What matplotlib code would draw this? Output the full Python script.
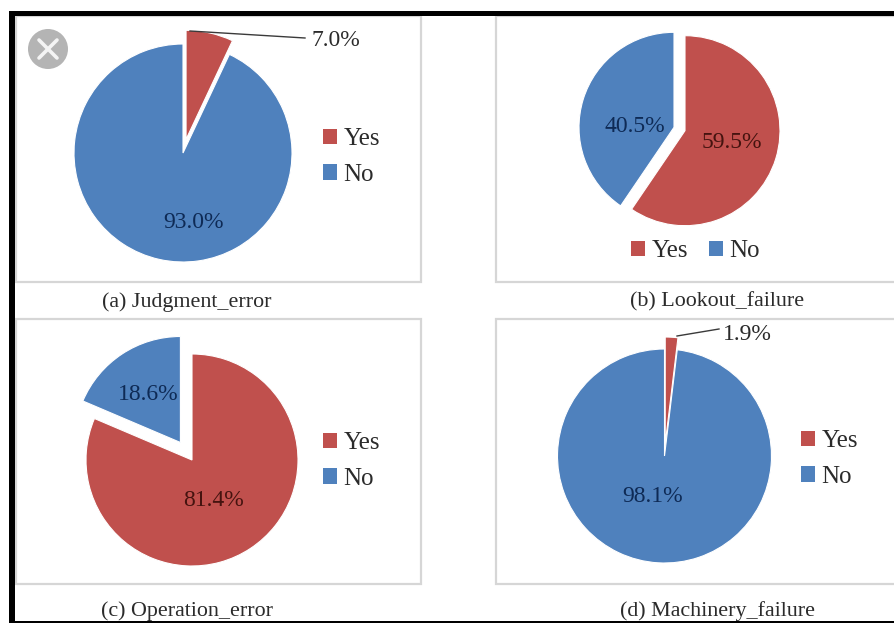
import matplotlib
matplotlib.use("Agg")
import matplotlib.pyplot as plt
from matplotlib.patches import Rectangle, Circle

WIDTH, HEIGHT = 894, 623

# Share of accidents with each factor present, in percent
categories = ["Yes", "No"]
judgment_error = [7.0, 93.0]
lookout_failure = [59.5, 40.5]
operation_error = [81.4, 18.6]
machinery_failure = [1.9, 98.1]
captions = ["(a) Judgment_error", "(b) Lookout_failure",
            "(c) Operation_error", "(d) Machinery_failure"]

RED = "#c0504d"
BLUE = "#4f81bd"
FRAME = "#d6d6d6"
INK = "#2b2b2b"
INK_ON = {0: "#45130f", 1: "#0e2a55"}

plt.rcParams["font.family"] = ["Liberation Serif", "DejaVu Serif"]

fig = plt.figure(figsize=(WIDTH / 100, HEIGHT / 100), dpi=100, facecolor="white")
ax = fig.add_axes([0, 0, 1, 1])


def py(y):
    """Flip a top-down pixel row into the upward y axis of the canvas."""
    return HEIGHT - y


# explode values are canvas units, since pie() adds them to the centre directly
panels = [
    dict(values=judgment_error, center=(183, 153), radius=109, explode=(14, 0),
         box=(16, 16, 421, 282), caption=(187, 302),
         legend=dict(anchor=(323, 157), ncol=1),
         labels={1: (194, 223)},
         leader=(0, (336, 41), (190, 31), (305, 38))),
    dict(values=lookout_failure, center=(679.5, 129), radius=95, explode=(5.75, 5.75),
         box=(496, 16, 900, 282), caption=(717, 302),
         legend=dict(anchor=(631, 251), ncol=2),
         labels={0: (732, 142), 1: (635, 126)},
         leader=None),
    dict(values=operation_error, center=(192, 460), radius=106, explode=(0, 21),
         box=(16, 319, 421, 584), caption=(187, 611),
         legend=dict(anchor=(323, 461), ncol=1),
         labels={0: (213, 501), 1: (148, 395)},
         leader=None),
    dict(values=machinery_failure, center=(664.5, 456), radius=107, explode=(12, 0),
         box=(496, 319, 900, 584), caption=(717, 611),
         legend=dict(anchor=(801, 459), ncol=1),
         labels={1: (653, 496)},
         leader=(0, (747, 334), (677, 336), (719, 329))),
]

for panel, caption in zip(panels, captions):
    x0, y0, x1, y1 = panel["box"]
    ax.add_patch(Rectangle((x0, py(y1)), x1 - x0, y1 - y0, facecolor="white",
                           edgecolor=FRAME, linewidth=1.6, zorder=0))

    cx, cy = panel["center"]
    wedges, _ = ax.pie(panel["values"], colors=[RED, BLUE], startangle=90,
                       counterclock=False, center=(cx, py(cy)), radius=panel["radius"],
                       explode=panel["explode"], frame=True,
                       wedgeprops=dict(edgecolor="white", linewidth=0.8))
    for wedge in wedges:
        wedge.set_zorder(1)

    for index, (tx, ty) in panel["labels"].items():
        ax.text(tx, py(ty), f"{panel['values'][index]:.1f}%", ha="center", va="center",
                fontsize=17, color=INK_ON[index], zorder=3)

    if panel["leader"]:
        index, (tx, ty), start, end = panel["leader"]
        ax.plot([start[0], end[0]], [py(start[1]), py(end[1])], color="#3a3a3a",
                linewidth=1.0, zorder=2)
        ax.text(tx, py(ty), f"{panel['values'][index]:.1f}%", ha="center", va="center",
                fontsize=17, color=INK, zorder=3)

    legend_pos = panel["legend"]
    legend = ax.legend(wedges, categories, loc="center left", frameon=False,
                       bbox_to_anchor=(legend_pos["anchor"][0], py(legend_pos["anchor"][1])),
                       bbox_transform=ax.transData, ncol=legend_pos["ncol"],
                       fontsize=18, labelcolor=INK, handlelength=0.56, handleheight=0.56,
                       handletextpad=0.25, labelspacing=0.55, columnspacing=0.85,
                       borderpad=0, borderaxespad=0)
    for handle in legend.legend_handles:
        handle.set_edgecolor("none")
    ax.add_artist(legend)
    ax.legend_ = None

    ax.text(panel["caption"][0], py(panel["caption"][1]), caption,
            ha="center", va="center", fontsize=15.8, color=INK, zorder=3)

# Outer black rule on the top, left and bottom of the sheet
for rect in [(9, py(16), WIDTH - 9, 5), (9, 0, 6, py(11)), (9, 0, WIDTH - 9, py(621))]:
    ax.add_patch(Rectangle(rect[:2], rect[2], rect[3], facecolor="black",
                           edgecolor="none", zorder=5))

# Round close button in the upper left corner
ax.add_patch(Circle((48, py(49)), 20, facecolor="#b4b4b4", edgecolor="none", zorder=6))
for sign in (1, -1):
    ax.plot([39, 57], [py(49 - sign * 9), py(49 + sign * 9)], color="#f4f4f4",
            linewidth=2.6, solid_capstyle="round", zorder=7)

ax.set_xlim(0, WIDTH)
ax.set_ylim(0, HEIGHT)
ax.set_aspect("equal")
ax.axis("off")

fig.savefig("out.png", dpi=100, facecolor="white")
